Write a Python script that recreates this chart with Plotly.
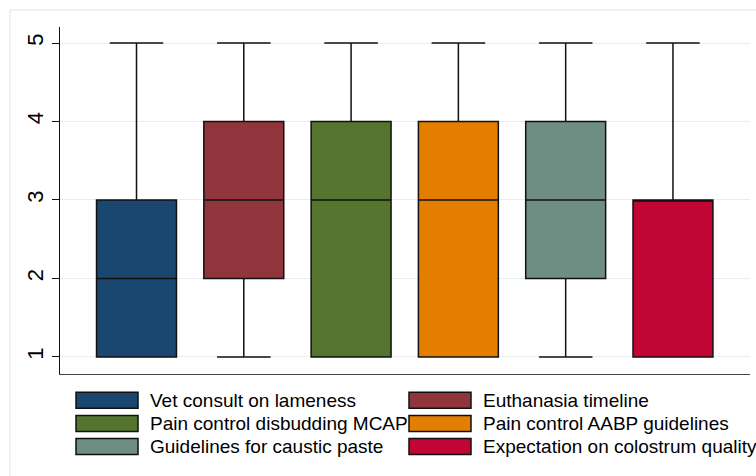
import plotly.graph_objects as go

# Survey items (Likert 1-5) and their box-plot summaries
items = [
    "Vet consult on lameness",
    "Euthanasia timeline",
    "Pain control disbudding MCAP",
    "Pain control AABP guidelines",
    "Guidelines for caustic paste",
    "Expectation on colostrum quality",
]
lower_adj = [1, 1, 1, 1, 1, 1]
q1 = [1, 2, 1, 1, 2, 1]
median = [2, 3, 3, 3, 3, 3]
q3 = [3, 4, 4, 4, 4, 3]
upper_adj = [5, 5, 5, 5, 5, 5]
colors = ["#1a476f", "#90353b", "#55752f", "#e37e00", "#6e8e84", "#c10534"]
y_ticks = [1, 2, 3, 4, 5]

W, H = 756, 476
L, R, T, B = 60, 6, 27, 102
plot_w, plot_h = W - L - R, H - T - B


def px_x(p):
    return (p - L) / plot_w


def px_y(p):
    return 1 - (p - T) / plot_h


fig = go.Figure()
for i, name in enumerate(items):
    fig.add_trace(go.Box(
        x=[i],
        q1=[q1[i]], median=[median[i]], q3=[q3[i]],
        lowerfence=[lower_adj[i]], upperfence=[upper_adj[i]],
        name=name,
        width=0.745,
        whiskerwidth=0.67,
        fillcolor=colors[i],
        line=dict(color="#111111", width=1.5),
        boxpoints=False,
        showlegend=False,
        hoverinfo="skip",
    ))

shapes = [
    # outer graph region frame
    dict(type="rect", xref="paper", yref="paper",
         x0=px_x(10), x1=px_x(W + 20), y0=px_y(H + 20), y1=px_y(10),
         line=dict(color="#dce5e9", width=1), fillcolor="rgba(0,0,0,0)", layer="below"),
]
annotations = []

# two-column legend below the plot
col_swatch = [76, 409]
col_text = [148, 481]
row_y = [400.3, 423.5, 446.5]
sw_w, sw_h = 62, 16
for i, name in enumerate(items):
    col, row = i % 2, i // 2
    cx, cy = col_swatch[col], row_y[row]
    shapes.append(dict(
        type="rect", xref="paper", yref="paper",
        x0=px_x(cx), x1=px_x(cx + sw_w),
        y0=px_y(cy + sw_h / 2), y1=px_y(cy - sw_h / 2),
        fillcolor=colors[i], line=dict(color="#111111", width=1.5),
    ))
    annotations.append(dict(
        xref="paper", yref="paper", x=px_x(col_text[col]), y=px_y(cy),
        xanchor="left", yanchor="middle", showarrow=False, text=name,
        font=dict(size=19, color="#000000", family="Liberation Sans, Arial"),
    ))

fig.update_layout(
    width=W, height=H,
    margin=dict(l=L, r=R, t=T, b=B),
    paper_bgcolor="white", plot_bgcolor="white",
    showlegend=False,
    shapes=shapes,
    annotations=annotations,
    font=dict(family="Liberation Sans, Arial", color="#000000"),
    xaxis=dict(
        range=[-0.713, 5.718], showgrid=False, zeroline=False,
        showticklabels=False, ticks="", showline=True,
        linecolor="#444444", linewidth=1.2,
    ),
    yaxis=dict(
        range=[0.783, 5.204], tickvals=y_ticks, ticktext=[str(v) for v in y_ticks],
        tickangle=-90, ticks="outside", ticklen=7, tickcolor="#111111", tickwidth=1.2,
        showline=True, linecolor="#111111", linewidth=1.2,
        showgrid=True, gridcolor="#e6eef0", gridwidth=1, zeroline=False,
        tickfont=dict(size=22, color="#000000", family="Liberation Sans, Arial"),
    ),
)

fig.write_html("out.html")
